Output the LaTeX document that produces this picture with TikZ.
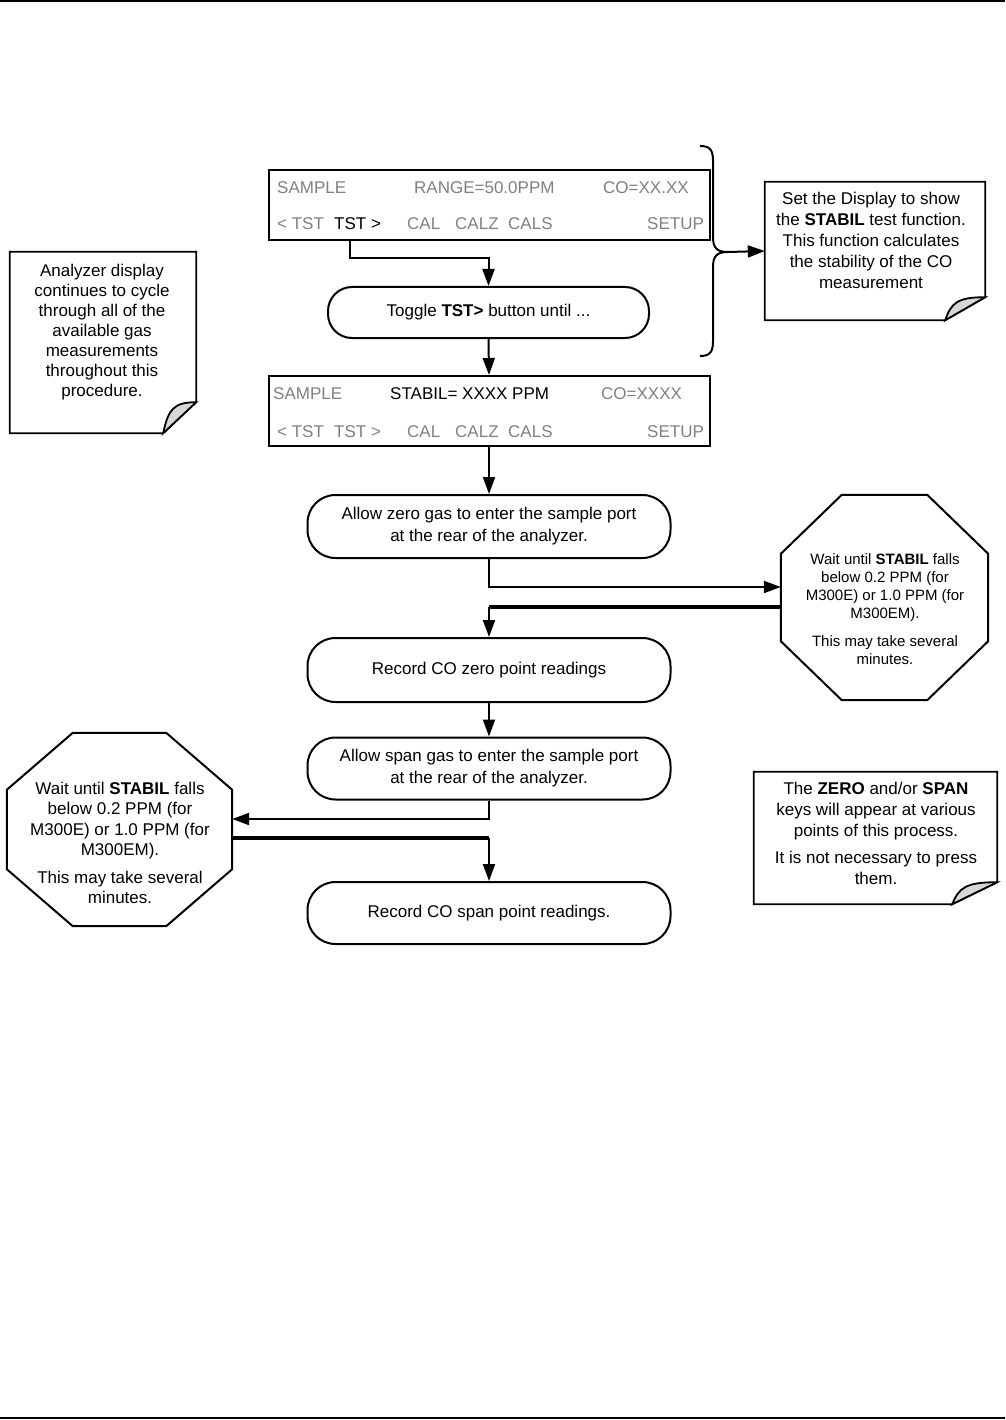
\documentclass[tikz,border=0pt]{standalone}
\usepackage{fontspec}
\setmainfont{Liberation Sans}
\usetikzlibrary{arrows.meta,calc}
\definecolor{dgray}{RGB}{128,128,128}
\definecolor{foldgray}{RGB}{215,215,215}
\newcommand\fsz[2]{\fontsize{#1}{#2}\selectfont}
% note outline with folded corner: node name, cut dx, cut dy
\newcommand\mynote[3]{%
  \draw[noteline] (#1.north west) -- (#1.north east) -- ($(#1.south east)+(0,-#3)$)
    -- ($(#1.south east)+(-#2,0)$) -- (#1.south west) -- cycle;
  \filldraw[noteline, fill=foldgray] ($(#1.south east)+(-#2,0)$)
    .. controls ($(#1.south east)+(-#2*0.85,-#3*0.75)$) and ($(#1.south east)+(-#2*0.7,-#3)$)
    .. ($(#1.south east)+(0,-#3)$) -- cycle;}
% octagon outline: node name, cut dx, cut dy
\newcommand\myoct[3]{%
  \draw[octline] ($(#1.north west)+(#2,0)$) -- ($(#1.north east)+(-#2,0)$)
    -- ($(#1.north east)+(0,#3)$) -- ($(#1.south east)+(0,-#3)$)
    -- ($(#1.south east)+(-#2,0)$) -- ($(#1.south west)+(#2,0)$)
    -- ($(#1.south west)+(0,-#3)$) -- ($(#1.north west)+(0,#3)$) -- cycle;}
\begin{document}
\begin{tikzpicture}[x=1pt,y=-1pt,
  dispbox/.style={draw, line width=2pt, minimum width=441pt, minimum height=70pt, inner sep=0pt},
  stadium/.style={draw, line width=2pt, rectangle, rounded corners=28pt, minimum width=363pt,
    minimum height=63pt, inner sep=0pt, align=center, font=\fsz{17}{22}},
  dtext/.style={anchor=base west, inner sep=0pt, font=\fsz{17}{20}, text=dgray},
  dblack/.style={dtext, text=black},
  arr/.style={line width=2pt, -{Triangle[length=17pt,width=12pt]}},
  thickln/.style={line width=4pt, line cap=square},
  notebg/.style={inner sep=0pt},
  noteline/.style={line width=1.8pt, line join=miter},
  octline/.style={line width=2pt, line join=miter},
  notetxt/.style={align=center, inner sep=0pt, font=\fsz{17}{21}},
  octsmall/.style={align=center, inner sep=0pt, font=\fsz{15}{18}},
  octbig/.style={align=center, inner sep=0pt, font=\fsz{17}{20.5}}
]
\useasboundingbox (0,0) rectangle (1005,1420);
% page rules
\draw[line width=2pt] (0,1) -- (1005,1);
\draw[line width=2pt] (0,1418) -- (1005,1418);

% display 1
\node[dispbox] (d1) at (489,205.5) {};
\node[dtext] (d1a) at (277,194) {SAMPLE};
\node[dtext] (d1b) at (414,194) {RANGE=50.0PPM};
\node[dtext] (d1c) at (603,194) {CO=XX.XX};
\node[dtext] (d1d) at (277,230) {< TST};
\node[dblack] (d1e) at (334,230) {TST >};
\node[dtext] (d1f) at (407,230) {CAL};
\node[dtext] (d1g) at (455,230) {CALZ};
\node[dtext] (d1h) at (508,230) {CALS};
\node[dtext] (d1i) at (647,230) {SETUP};

% toggle
\node[stadium, minimum width=321pt, minimum height=51pt, rounded corners=24pt] (tog) at (488.5,312.5)
  {Toggle \textbf{TST>} button until ...};

% display 2
\node[dispbox] (d2) at (489,411) {};
\node[dtext] (d2a) at (273,399) {SAMPLE};
\node[dblack] (d2b) at (390,399) {STABIL= XXXX PPM};
\node[dtext] (d2c) at (601,399) {CO=XXXX};
\node[dtext] (d2d) at (277,437) {< TST};
\node[dtext] (d2e) at (334,437) {TST >};
\node[dtext] (d2f) at (407,437) {CAL};
\node[dtext] (d2g) at (455,437) {CALZ};
\node[dtext] (d2h) at (508,437) {CALS};
\node[dtext] (d2i) at (647,437) {SETUP};

% process boxes
\node[stadium] (b3) at (489,526.5) {Allow zero gas to enter the sample port\\at the rear of the analyzer.};
\node[stadium, minimum height=64pt] (b4) at (489,670) {Record CO zero point readings};
\node[stadium, minimum height=62pt] (b5) at (489,768.5) {Allow span gas to enter the sample port\\at the rear of the analyzer.};
\node[stadium, minimum height=62pt] (b6) at (489,913) {Record CO span point readings.};

% notes
\node[notebg, minimum width=186pt, minimum height=181pt] (n1) at (103,342.5) {};
\mynote{n1}{33}{31}
\node[notetxt, font=\fsz{17}{20}] (n1t) at (102,332) {Analyzer display\\continues to cycle\\through all of the\\available gas\\measurements\\throughout this\\procedure.};

\node[notebg, minimum width=220pt, minimum height=138pt] (n2) at (875,251) {};
\mynote{n2}{40}{23}
\node[notetxt] (n2t) at (871,240) {Set the Display to show\\the \textbf{STABIL} test function.\\This function calculates\\the stability of the CO\\measurement};

\node[notebg, minimum width=243pt, minimum height=132pt] (n3) at (875.5,838) {};
\mynote{n3}{45}{22}
\node[notetxt] (n3t) at (876,833) {The \textbf{ZERO} and/or \textbf{SPAN}\\keys will appear at various\\points of this process.\\[6pt]It is not necessary to press\\them.};

% octagons
\node[notebg, minimum width=207pt, minimum height=205pt] (o1) at (884.5,597.5) {};
\myoct{o1}{61}{59}
\node[octsmall] (o1t) at (885,609) {Wait until \textbf{STABIL} falls\\below 0.2 PPM (for\\M300E) or 1.0 PPM (for\\M300EM).\\[10pt]This may take several\\minutes.};

\node[notebg, minimum width=225pt, minimum height=193pt] (o2) at (119.5,829.5) {};
\myoct{o2}{66}{57}
\node[octbig] (o2t) at (120,843) {Wait until \textbf{STABIL} falls\\below 0.2 PPM (for\\M300E) or 1.0 PPM (for\\M300EM).\\[7pt]This may take several\\minutes.};

% brace
\coordinate (btip) at (728,252);
\draw[line width=2pt] (700,146) .. controls (710,146) and (713,150) .. (713,161) -- (713,237)
  .. controls (713,248) and (717,252) .. (btip);
\draw[line width=2pt] (btip) .. controls (717,252) and (713,256) .. (713,267) -- (713,341)
  .. controls (713,352) and (710,356) .. (700,356);
\draw[arr] (btip) -- (n2.west);

% connectors
\coordinate (tstk) at ($(d1.south west)+(82,0)$);
\draw[arr] (tstk) -- ++(0,17) -| (tog.north);
\draw[arr] (tog.south) -- (d2.north);
\draw[arr] (d2.south) -- (b3.north);
\draw[arr] (b3.south) |- ($(o1.west)+(0,-10.5)$);
\coordinate (o1r) at ($(o1.west)+(0,9.5)$);
\coordinate (j1) at (b4.north |- o1r);
\draw[thickln] (o1r) -- (j1);
\draw[arr] (j1) -- (b4.north);
\draw[arr] (b4.south) -- (b5.north);
\draw[arr] (b5.south) |- ($(o2.east)+(0,-10.5)$);
\coordinate (o2r) at ($(o2.east)+(0,8.5)$);
\coordinate (j2) at (b6.north |- o2r);
\draw[thickln] (o2r) -- (j2);
\draw[arr] (j2) -- (b6.north);
\end{tikzpicture}
\end{document}
